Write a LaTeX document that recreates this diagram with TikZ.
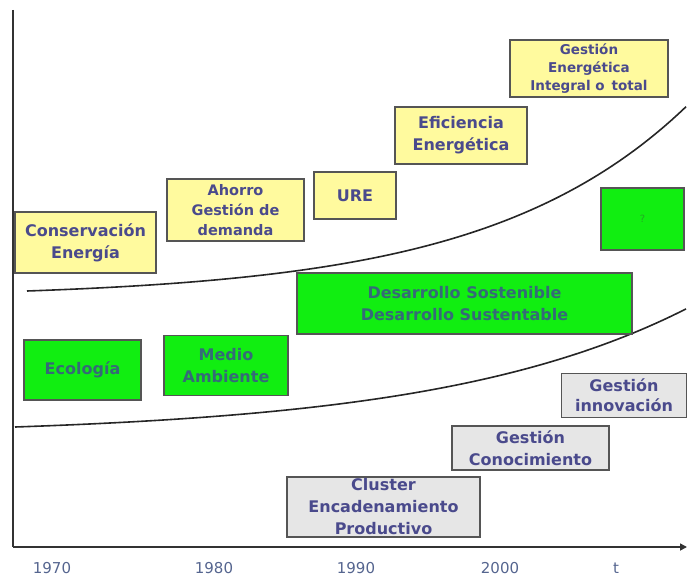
\documentclass[tikz,border=0pt]{standalone}
\usepackage{fontspec}
\setmainfont{DejaVu Sans}
\usetikzlibrary{arrows.meta}
\definecolor{boxtext}{HTML}{4A4A8C}
\definecolor{greentext}{HTML}{356A78}
\definecolor{yearcol}{HTML}{55658F}
\definecolor{yellowfill}{HTML}{FFFA9E}
\definecolor{greenfill}{HTML}{11EE11}
\definecolor{grayfill}{HTML}{E6E6E6}
\definecolor{edge}{HTML}{555555}
\definecolor{qmark}{HTML}{22AA22}
\begin{document}
\begin{tikzpicture}[x=1pt,y=-1pt,
  box/.style={draw=edge,line width=1.3pt,inner sep=0pt,align=center,
    font=\bfseries\fontsize{16}{22}\selectfont,text=boxtext},
  sz/.style 2 args={minimum width=#1pt,minimum height=#2pt},
  ybox/.style={box,fill=yellowfill},
  gbox/.style={box,fill=greenfill,text=greentext},
  kbox/.style={box,fill=grayfill},
  year/.style={font=\fontsize{15}{17}\selectfont,text=yearcol},
  curve/.style={line width=1.6pt,black!85}]
\useasboundingbox (0,0) rectangle (687,577);

% axes
\coordinate (top) at (13,10);
\coordinate (orig) at (13,547);
\coordinate (tend) at (687,547);
\draw[line width=1.6pt,black!80] (top) -- (orig);
\draw[line width=1.6pt,black!80,-{Triangle[length=7pt,width=7pt]}] (orig) -- (tend);

% exponential boundary curves between the three bands
\draw[curve] plot[domain=27:686,samples=90] (\x,{291-7.07*(exp(0.005*(\x-27))-1)});
\draw[curve] plot[domain=15:686,samples=90] (\x,{427-8.67*(exp(0.004*(\x-15))-1)});

% energy-management boxes
\node[ybox,sz={158}{57},font=\bfseries\fontsize{13.5}{18}\selectfont] (gei) at (589,68.5)
  {Gestión\\Energética\\Integral o\, total};
\node[ybox,sz={132}{57}] (efi) at (461,135.5) {Eficiencia\\Energética};
\node[ybox,sz={82}{47}] (ure) at (355,195.5) {URE};
\node[ybox,sz={137}{62},font=\bfseries\fontsize{14.5}{20}\selectfont] (aho) at (235.5,210)
  {Ahorro\\Gestión de\\demanda};
\node[ybox,sz={141}{61}] (con) at (85.5,242.5) {Conservación\\Energía};

% environment boxes
\node[gbox,sz={83}{62},font=\fontsize{10}{12}\selectfont,text=qmark] (q) at (642.5,219) {?};
\node[gbox,sz={335}{61}] (des) at (464.5,303.5) {Desarrollo Sostenible\\Desarrollo Sustentable};
\node[gbox,sz={117}{60}] (eco) at (82.5,370) {Ecología};
\node[gbox,sz={124}{60}] (med) at (226,365.5) {Medio\\Ambiente};

% knowledge boxes
\node[kbox,sz={125}{44},font=\bfseries\fontsize{16}{20}\selectfont] (gin) at (624,395.5) {Gestión\\innovación};
\node[kbox,sz={157}{44}] (gco) at (530.5,448) {Gestión\\Conocimiento};
\node[kbox,sz={193}{60}] (clu) at (383.5,507) {Cluster\\Encadenamiento\\Productivo};

% time axis labels
\node[year] (y70) at (52,568) {1970};
\node[year] (y80) at (214,568) {1980};
\node[year] (y90) at (356,568) {1990};
\node[year] (y00) at (500,568) {2000};
\node[year] (yt) at (616,568) {t};
\end{tikzpicture}
\end{document}
